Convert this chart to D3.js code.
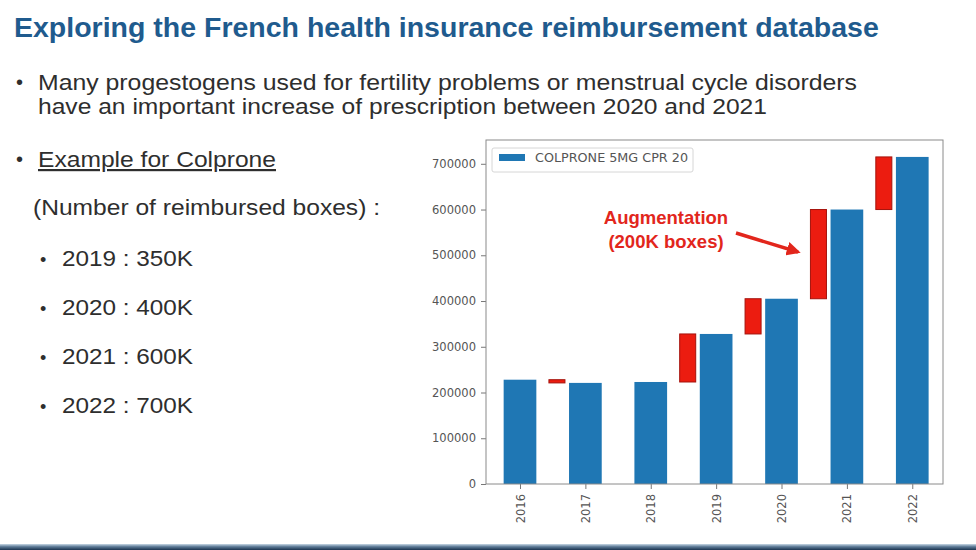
<!DOCTYPE html>
<html>
<head>
<meta charset="utf-8">
<script src="https://cdn.jsdelivr.net/npm/d3@7"></script>
<style>
  html, body { margin: 0; padding: 0; background: #ffffff; }
  svg { display: block; }
</style>
</head>
<body>
<svg id="slide" width="976" height="550"></svg>
<script>
// ---------------- data ----------------
const years = ["2016", "2017", "2018", "2019", "2020", "2021", "2022"];
const boxes = [228000, 221000, 223000, 328000, 405000, 600000, 715000];
// previous-year level from which the red "augmentation" bar starts (null = no bar)
const changeFrom = [null, 228000, null, 223000, 328000, 405000, 600000];
const yTicks = [0, 100000, 200000, 300000, 400000, 500000, 600000, 700000];
const seriesName = "COLPRONE 5MG CPR 20";

const titleText = "Exploring the French health insurance reimbursement database";
const bulletLines = [
  "Many progestogens used for fertility problems or menstrual cycle disorders",
  "have an important increase of prescription between 2020 and 2021"
];
const exampleText = "Example for Colprone";
const subtitleText = "(Number of reimbursed boxes) :";
const summaryYears = ["2019", "2020", "2021", "2022"];
const summaryValues = ["350K", "400K", "600K", "700K"];
const annotationLines = ["Augmentation", "(200K boxes)"];

// ---------------- slide ----------------
const svg = d3.select("#slide");
const textColor = "#2e2e2e";
const slideFont = "'Liberation Sans', Arial, Helvetica, sans-serif";

// bottom band
const defs = svg.append("defs");
const grad = defs.append("linearGradient").attr("id", "band").attr("x1", 0).attr("y1", 0).attr("x2", 0).attr("y2", 1);
grad.append("stop").attr("offset", "0%").attr("stop-color", "#c9d9e6");
grad.append("stop").attr("offset", "45%").attr("stop-color", "#5d7a96");
grad.append("stop").attr("offset", "100%").attr("stop-color", "#1b3450");
svg.append("rect").attr("x", 0).attr("y", 544).attr("width", 976).attr("height", 6).attr("fill", "url(#band)");

svg.append("text")
  .attr("x", 14).attr("y", 37)
  .attr("font-family", slideFont).attr("font-weight", "bold").attr("font-size", 28.5)
  .attr("fill", "#1f5b8e")
  .text(titleText);

function bodyText(t, xPos, yPos, size, width) {
  return svg.append("text")
    .attr("x", xPos).attr("y", yPos)
    .attr("font-family", slideFont).attr("font-size", size).attr("fill", textColor)
    .attr("textLength", width).attr("lengthAdjust", "spacingAndGlyphs")
    .text(t);
}

svg.append("text").attr("x", 16).attr("y", 89)
  .attr("font-family", slideFont).attr("font-size", 20).attr("fill", textColor).text("•");
const bulletWidths = [819, 729];
bulletLines.forEach((t, i) => bodyText(t, 38, 90 + i * 24, 22, bulletWidths[i]));

svg.append("text").attr("x", 16).attr("y", 166)
  .attr("font-family", slideFont).attr("font-size", 20).attr("fill", textColor).text("•");
bodyText(exampleText, 38, 167, 22, 238).attr("text-decoration", "underline");

bodyText(subtitleText, 33, 215, 22, 347);

summaryYears.forEach((yr, i) => {
  const by = 266 + i * 49;
  svg.append("text").attr("x", 40).attr("y", by)
    .attr("font-family", slideFont).attr("font-size", 18).attr("fill", textColor).text("•");
  bodyText(yr + " : " + summaryValues[i], 62, by, 22.5, 131);
});

// ---------------- chart ----------------
const plot = { left: 486, right: 943, top: 140, bottom: 484 };
const x = d3.scaleLinear().domain([-0.52, 6.47]).range([plot.left, plot.right]);
const y = d3.scaleLinear().domain([0, 752000]).range([plot.bottom, plot.top]);
const unit = x(1) - x(0);
const chartFont = "'DejaVu Sans', sans-serif";
const blue = "#1f77b4";
const red = "#ec1c10";

const chart = svg.append("g");

// blue bars
chart.selectAll("rect.bar").data(boxes).join("rect")
  .attr("class", "bar")
  .attr("x", (d, i) => x(i - 0.25))
  .attr("width", unit * 0.5)
  .attr("y", d => y(d))
  .attr("height", d => y(0) - y(d))
  .attr("fill", blue);

// red change bars
const changes = boxes.map((v, i) => ({ i, from: changeFrom[i], to: v })).filter(d => d.from !== null);
chart.selectAll("rect.chg").data(changes).join("rect")
  .attr("class", "chg")
  .attr("x", d => x(d.i - 0.435 - 0.1225))
  .attr("width", unit * 0.245)
  .attr("y", d => y(Math.max(d.from, d.to)))
  .attr("height", d => Math.abs(y(d.from) - y(d.to)))
  .attr("fill", red)
  .attr("stroke", "#a5120b").attr("stroke-width", 1);

// axes
const yAxis = chart.append("g")
  .attr("transform", `translate(${plot.left},0)`)
  .call(d3.axisLeft(y).tickValues(yTicks).tickFormat(d3.format("d")).tickSize(5).tickPadding(5));
const xAxis = chart.append("g")
  .attr("transform", `translate(0,${plot.bottom})`)
  .call(d3.axisBottom(x).tickValues(d3.range(years.length)).tickFormat(i => years[i]).tickSize(5).tickPadding(5));
[yAxis, xAxis].forEach(g => {
  g.select(".domain").remove();
  g.selectAll(".tick line").attr("stroke", "#777");
  g.selectAll(".tick text").attr("fill", "#555").attr("font-family", chartFont).attr("font-size", 11.5);
});
yAxis.selectAll(".tick text").attr("textLength", 44).attr("lengthAdjust", "spacingAndGlyphs");
yAxis.selectAll(".tick").filter(d => d === 0).select("text").attr("textLength", null);
xAxis.selectAll(".tick text")
  .attr("transform", "rotate(-90)")
  .attr("text-anchor", "end")
  .attr("x", -10).attr("y", 0).attr("dy", "0.35em");

// frame
chart.append("rect")
  .attr("x", plot.left).attr("y", plot.top)
  .attr("width", plot.right - plot.left).attr("height", plot.bottom - plot.top)
  .attr("fill", "none").attr("stroke", "#8a8a8a").attr("stroke-width", 1);

// legend
const lg = chart.append("g").attr("transform", `translate(${plot.left + 6},${plot.top + 8})`);
lg.append("rect").attr("x", 0).attr("y", 0).attr("width", 201).attr("height", 24)
  .attr("fill", "#fff").attr("stroke", "#d6d6d6").attr("rx", 2);
lg.append("rect").attr("x", 7).attr("y", 6).attr("width", 26).attr("height", 7).attr("fill", blue);
lg.append("text").attr("x", 43).attr("y", 14)
  .attr("font-family", chartFont).attr("font-size", 11.5).attr("fill", "#555")
  .attr("textLength", 153).attr("lengthAdjust", "spacingAndGlyphs")
  .text(seriesName);

// annotation
annotationLines.forEach((t, i) => {
  chart.append("text")
    .attr("x", 666).attr("y", 224 + i * 24)
    .attr("text-anchor", "middle")
    .attr("font-family", slideFont).attr("font-weight", "bold").attr("font-size", 18.5)
    .attr("fill", "#e2261c")
    .text(t);
});
defs.append("marker").attr("id", "arrow").attr("viewBox", "0 0 10 10")
  .attr("refX", 8).attr("refY", 5).attr("markerWidth", 4).attr("markerHeight", 4)
  .attr("orient", "auto")
  .append("path").attr("d", "M0,0 L10,5 L0,10 Z").attr("fill", "#e2261c");
chart.append("line")
  .attr("x1", 736).attr("y1", 233).attr("x2", 798).attr("y2", 252)
  .attr("stroke", "#e2261c").attr("stroke-width", 3.5)
  .attr("marker-end", "url(#arrow)");
</script>
</body>
</html>
